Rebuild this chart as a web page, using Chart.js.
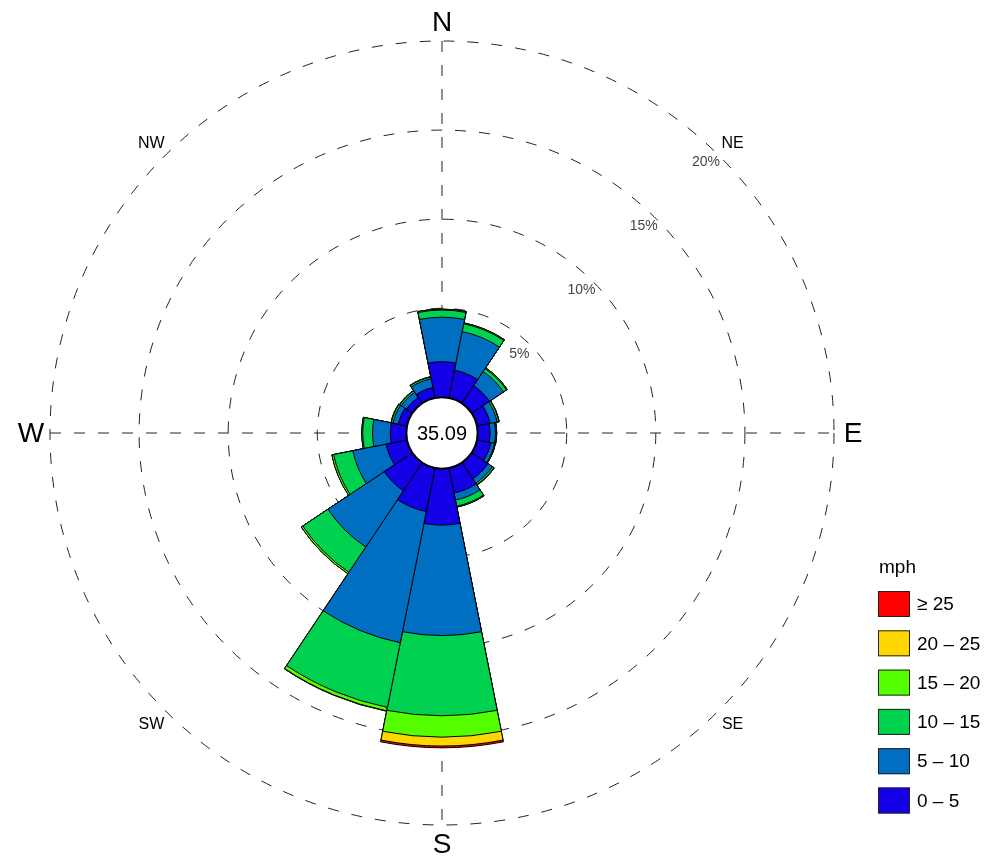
<!DOCTYPE html>
<html>
<head>
<meta charset="utf-8">
<script src="https://cdn.jsdelivr.net/npm/chart.js@4/dist/chart.umd.min.js"></script>
<style>
  body { margin: 0; background: #fff; }
  #wrap { width: 992px; height: 859px; }
</style>
</head>
<body>
<div id="wrap"><canvas id="roseChart" width="992" height="859"></canvas></div>
<script>
// wind directions, clockwise from north
const directions = ["N", "NNE", "NE", "ENE", "E", "ESE", "SE", "SSE",
                    "S", "SSW", "SW", "WSW", "W", "WNW", "NW", "NNW"];
// frequency (%) of each speed band per direction
const mph0to5   = [2.0, 1.6, 1.2, 0.75, 0.7, 0.8, 1.1, 1.44, 3.17, 2.5, 1.9, 1.2, 0.9, 0.5, 0.4, 0.6];
const mph5to10  = [2.5, 2.2, 0.95, 0.4, 0.3, 0.2, 0.3, 0.4, 6.2, 7.5, 3.8, 1.9, 1.0, 0.3, 0.35, 0.5];
const mph10to15 = [0.4, 0.45, 0.2, 0.1, 0.05, 0.05, 0.1, 0.35, 4.5, 3.7, 1.7, 1.1, 0.55, 0.1, 0.1, 0.1];
const mph15to20 = [0.05, 0.05, 0.05, 0.02, 0.02, 0.0, 0.02, 0.05, 1.2, 0.2, 0.1, 0.1, 0.05, 0.02, 0.02, 0.02];
const mph20to25 = [0, 0, 0, 0, 0, 0, 0, 0, 0.5, 0.02, 0, 0, 0, 0, 0, 0];
const mph25up   = [0, 0, 0, 0, 0, 0, 0, 0, 0.1, 0, 0, 0, 0, 0, 0, 0];
const calmPct = "35.09";
const bandLabels = ["0 \u2013 5", "5 \u2013 10", "10 \u2013 15", "15 \u2013 20", "20 \u2013 25", "\u2265 25"];
const bandColors = ['#1400e6', '#006fc2', '#00d24f', '#55ff00', '#ffd700', '#ff0000'];
const ringTicks = [5, 10, 15, 20];

const bands = [mph0to5, mph5to10, mph10to15, mph15to20, mph20to25, mph25up];
// stacked rose: each dataset holds the running total, smallest drawn on top
let running = directions.map(() => 0);
const datasets = bands.map((band, i) => {
    running = running.map((v, j) => v + band[j]);
    return {
        label: bandLabels[i],
        data: running.slice(),
        backgroundColor: bandColors[i],
        borderColor: '#000',
        borderWidth: 1
    };
});

const FONT = "'Liberation Sans', Arial, sans-serif";

const roseDecor = {
    id: 'roseDecor',
    beforeDatasetsDraw(chart) {
        const r = chart.scales.r, ctx = chart.ctx;
        const R = r.drawingArea;
        ctx.save();
        ctx.strokeStyle = '#222';
        ctx.lineWidth = 1;
        ctx.setLineDash([11, 13]);
        ctx.beginPath();
        ctx.moveTo(r.xCenter, r.yCenter - R);
        ctx.lineTo(r.xCenter, r.yCenter + R);
        ctx.moveTo(r.xCenter - R, r.yCenter);
        ctx.lineTo(r.xCenter + R, r.yCenter);
        ctx.stroke();
        ctx.restore();
    },
    afterDatasetsDraw(chart) {
        const r = chart.scales.r, ctx = chart.ctx;
        const cx = r.xCenter, cy = r.yCenter, R = r.drawingArea;
        ctx.save();
        // calm circle
        const calmR = r.getDistanceFromCenterForValue(0);
        ctx.beginPath();
        ctx.arc(cx, cy, calmR, 0, Math.PI * 2);
        ctx.fillStyle = '#fff';
        ctx.fill();
        ctx.lineWidth = 2;
        ctx.strokeStyle = '#000';
        ctx.stroke();
        ctx.fillStyle = '#000';
        ctx.textAlign = 'center';
        ctx.textBaseline = 'middle';
        ctx.font = '20px ' + FONT;
        ctx.fillText(calmPct, cx, cy + 1);

        // compass labels
        const compass = [["N", 0, 28], ["NE", 45, 16], ["E", 90, 28], ["SE", 135, 16],
                         ["S", 180, 28], ["SW", 225, 16], ["W", 270, 28], ["NW", 315, 16]];
        compass.forEach(([t, deg, size]) => {
            const a = deg * Math.PI / 180;
            const d = R + 19;
            ctx.font = size + 'px ' + FONT;
            ctx.fillText(t, cx + Math.sin(a) * d, cy - Math.cos(a) * d + 1);
        });

        // ring labels
        ctx.fillStyle = '#444';
        ctx.font = '14px ' + FONT;
        const la = 44.3 * Math.PI / 180;
        ringTicks.forEach(v => {
            const d = r.getDistanceFromCenterForValue(v) - 14;
            ctx.fillText(v + '%', cx + Math.sin(la) * d, cy - Math.cos(la) * d);
        });

        // legend
        ctx.fillStyle = '#000';
        ctx.textAlign = 'left';
        ctx.font = '19px ' + FONT;
        ctx.fillText('mph', 879, 568);
        for (let i = 0; i < bandLabels.length; i++) {
            const k = bandLabels.length - 1 - i;
            const y = 591 + i * 39.3;
            ctx.fillStyle = bandColors[k];
            ctx.fillRect(878, y, 32, 26);
            ctx.lineWidth = 1;
            ctx.strokeStyle = '#222';
            ctx.strokeRect(878.5, y + 0.5, 31, 25);
            ctx.fillStyle = '#000';
            ctx.fillText(bandLabels[k], 917, y + 14);
        }
        ctx.restore();
    }
};

new Chart(document.getElementById('roseChart').getContext('2d'), {
    type: 'polarArea',
    data: {
        labels: directions,
        datasets: datasets
    },
    options: {
        responsive: false,
        animation: false,
        layout: { padding: { left: 50, right: 158, top: 41, bottom: 34 } },
        plugins: {
            legend: { display: false },
            tooltip: { enabled: false }
        },
        scales: {
            r: {
                min: -2,
                max: 20,
                startAngle: -11.25,
                afterBuildTicks: scale => {
                    scale.ticks = ringTicks.map(v => ({ value: v }));
                },
                ticks: { display: false },
                grid: { circular: true, color: '#222', lineWidth: 1 },
                border: { dash: [11, 13] },
                angleLines: { display: false },
                pointLabels: { display: false }
            }
        }
    },
    plugins: [roseDecor]
});
</script>
</body>
</html>
